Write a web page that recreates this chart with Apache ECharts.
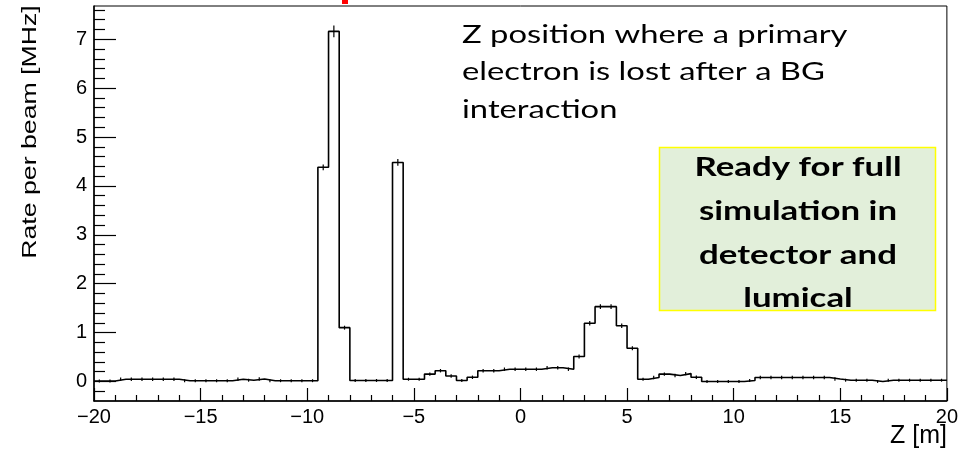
<!DOCTYPE html>
<html>
<head>
<meta charset="utf-8">
<script src="https://cdn.jsdelivr.net/npm/echarts@6/dist/echarts.min.js"></script>
<style>
html,body{margin:0;padding:0;background:#fff;}
#c{width:961px;height:450px;}
</style>
</head>
<body>
<div id="c"></div>
<script>
// Histogram: 80 bins of 0.5 m from -20 to 20
const binLow = -20;
const binWidth = 0.5;
const rates = [
  0.01, 0.01, 0.045, 0.045, 0.045, 0.045, 0.045, 0.045, 0.015, 0.015,
  0.015, 0.015, 0.015, 0.045, 0.025, 0.05, 0.015, 0.015, 0.015, 0.015,
  0.015, 4.38, 7.16, 1.10, 0.02, 0.02, 0.02, 0.02, 4.48, 0.045,
  0.045, 0.15, 0.22, 0.11, 0.02, 0.085, 0.22, 0.22, 0.25, 0.25,
  0.25, 0.25, 0.28, 0.28, 0.25, 0.51, 1.19, 1.53, 1.53, 1.14,
  0.68, 0.045, 0.08, 0.15, 0.12, 0.16, 0.085, 0.0, 0.0, 0.0,
  0.0, 0.02, 0.08, 0.08, 0.08, 0.08, 0.08, 0.08, 0.08, 0.05,
  0.025, 0.025, 0.025, 0.0, 0.025, 0.025, 0.025, 0.025, 0.025, 0.025
];
const errors = [
  0.03, 0.03, 0.035, 0.035, 0.035, 0.035, 0.035, 0.035, 0.03, 0.03,
  0.03, 0.03, 0.03, 0.035, 0.03, 0.035, 0.03, 0.03, 0.03, 0.03,
  0.03, 0.06, 0.12, 0.04, 0.03, 0.03, 0.03, 0.03, 0.07, 0.03,
  0.03, 0.035, 0.035, 0.035, 0.03, 0.035, 0.035, 0.035, 0.035, 0.035,
  0.035, 0.035, 0.035, 0.035, 0.035, 0.04, 0.045, 0.05, 0.05, 0.045,
  0.04, 0.03, 0.035, 0.035, 0.035, 0.035, 0.035, 0.03, 0.03, 0.03,
  0.03, 0.03, 0.035, 0.035, 0.035, 0.035, 0.035, 0.035, 0.035, 0.035,
  0.03, 0.03, 0.03, 0.03, 0.03, 0.03, 0.03, 0.03, 0.03, 0.03
];
const yMajorTicks = [0, 1, 2, 3, 4, 5, 6, 7];
const yMinorTicks = [-0.2, 0.2, 0.4, 0.6, 0.8, 1.2, 1.4, 1.6, 1.8, 2.2, 2.4, 2.6, 2.8,
  3.2, 3.4, 3.6, 3.8, 4.2, 4.4, 4.6, 4.8, 5.2, 5.4, 5.6, 5.8, 6.2, 6.4, 6.6, 6.8, 7.2, 7.4, 7.6];
const yTitle = 'Rate per beam [MHz]';
const xTitle = 'Z [m]';
const noteLines = ['Z position where a primary', 'electron is lost after a BG', 'interaction'];
const boxLines = ['Ready for full', 'simulation in', 'detector and', 'lumical'];

// outline of histogram: each bin contributes its two edges
const outline = [];
const bars = [];
rates.forEach((v, i) => {
  const lo = binLow + i * binWidth, hi = lo + binWidth;
  outline.push([lo, v], [hi, v]);
  bars.push([lo + binWidth / 2, v, errors[i]]);
});

const fontAx = '"Liberation Sans", Arial, sans-serif';
const chart = echarts.init(document.getElementById('c'), null, {renderer: 'canvas'});
chart.setOption({
  animation: false,
  backgroundColor: '#fff',
  grid: {left: 94, right: 13, top: 6, bottom: 49, show: true, borderColor: '#000', borderWidth: 1, backgroundColor: 'transparent'},
  xAxis: {
    type: 'value', min: -20, max: 20, interval: 5,
    axisLine: {onZero: false, lineStyle: {color: '#000', width: 1.5}},
    axisTick: {inside: true, length: 13, lineStyle: {color: '#000', width: 1.2}},
    minorTick: {show: true, splitNumber: 5, length: 6, lineStyle: {color: '#000', width: 1.2}},
    splitLine: {show: false},
    axisLabel: {color: '#000', fontFamily: fontAx, fontSize: 20, margin: 6,
      formatter: v => v < 0 ? '\u2212' + Math.abs(v) : String(v)}
  },
  yAxis: [{
    type: 'value', min: -0.4, max: 7.68,
    axisLine: {show: true, onZero: false, lineStyle: {color: '#000', width: 1.5}},
    axisTick: {show: true, inside: true, length: 22, customValues: yMajorTicks, lineStyle: {color: '#000', width: 1.2}},
    axisLabel: {color: '#000', fontFamily: fontAx, fontSize: 20, margin: 7, customValues: yMajorTicks},
    splitLine: {show: false}
  }, {
    type: 'value', min: -0.4, max: 7.68, position: 'left',
    axisLine: {show: false, onZero: false},
    axisTick: {show: true, inside: true, length: 11, customValues: yMinorTicks, lineStyle: {color: '#000', width: 1.2}},
    axisLabel: {show: false},
    splitLine: {show: false}
  }],
  series: [{
    type: 'line', data: outline, showSymbol: false, symbol: 'none',
    lineStyle: {color: '#000', width: 1.6}, clip: false
  }, {
    type: 'custom', data: bars,
    renderItem: (params, api) => {
      const x = api.value(0), v = api.value(1), e = api.value(2);
      const p1 = api.coord([x, v - e]), p2 = api.coord([x, v + e]);
      return {type: 'line', shape: {x1: p1[0], y1: p1[1], x2: p2[0], y2: p2[1]},
        style: {stroke: '#000', lineWidth: 1.2}};
    }
  }],
  graphic: [
    {type: 'rect', shape: {x: 342, y: 0, width: 6, height: 4}, style: {fill: '#ff0000'}},
    {type: 'text', x: 30, y: 132, rotation: Math.PI / 2, scaleX: 1.27,
      style: {text: yTitle, fill: '#000', font: '21px "Liberation Sans", Arial, sans-serif', align: 'center', verticalAlign: 'middle'}},
    {type: 'text', x: 947, y: 436,
      style: {text: xTitle, fill: '#000', font: '25px "Liberation Sans", Arial, sans-serif', align: 'right', verticalAlign: 'middle'}},
    {type: 'text', x: 462, y: 16, scaleX: 1.31,
      style: {text: noteLines.join('\n'), fill: '#000', font: '25px Lato, sans-serif', lineHeight: 37.5, align: 'left', verticalAlign: 'top'}},
    {type: 'rect', shape: {x: 659.5, y: 147.5, width: 276, height: 163}, style: {fill: '#e2efda', stroke: '#ffff00', lineWidth: 1.5}},
    {type: 'text', x: 798, y: 146, scaleX: 1.34,
      style: {text: boxLines.join('\n'), fill: '#000', font: 'bold 26px Lato, sans-serif', lineHeight: 43.7, align: 'center', verticalAlign: 'top'}}
  ]
});
</script>
</body>
</html>
